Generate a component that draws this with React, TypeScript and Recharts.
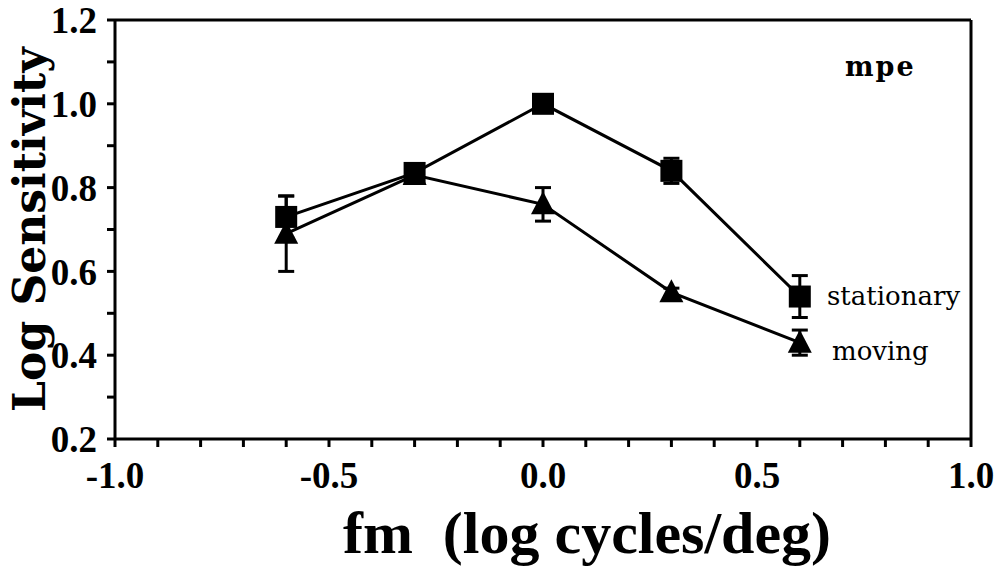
import React from "react";
import {
  ComposedChart, Line, XAxis, YAxis, ErrorBar, ReferenceLine, Label,
} from "recharts";

// spatial frequency (log cycles/deg)
const freqs = [-0.6, -0.3, 0.0, 0.3, 0.6];
const stationaryVals = [0.73, 0.835, 1.0, 0.84, 0.54];
const stationaryErr = [0.05, 0.01, 0.01, 0.03, 0.05];
const movingVals = [0.69, 0.83, 0.76, 0.55, 0.43];
const movingErr = [0.09, 0.02, 0.04, 0.01, 0.03];

const xTicks = [-1.0, -0.9, -0.8, -0.7, -0.6, -0.5, -0.4, -0.3, -0.2, -0.1, 0.0,
  0.1, 0.2, 0.3, 0.4, 0.5, 0.6, 0.7, 0.8, 0.9, 1.0];
const yTicks = [0.2, 0.3, 0.4, 0.5, 0.6, 0.7, 0.8, 0.9, 1.0, 1.1, 1.2];

const stationary = freqs.map((x, i) => ({ x, y: stationaryVals[i], err: stationaryErr[i] }));
const moving = freqs.map((x, i) => ({ x, y: movingVals[i], err: movingErr[i] }));

const SERIF = "'DejaVu Serif', serif";
const TIMES = "'Liberation Serif', serif";

const xFmt = (v: number) => (Math.abs(v * 2 - Math.round(v * 2)) < 1e-6 ? v.toFixed(1) : "");
const yFmt = (v: number) => (Math.abs(v * 5 - Math.round(v * 5)) < 1e-6 ? v.toFixed(1) : "");

function Square(props: any) {
  const { cx, cy, index } = props;
  if (cx == null || cy == null) return null;
  return <rect key={`s${index}`} x={cx - 11} y={cy - 11} width={22} height={22} fill="#000" />;
}

function Triangle(props: any) {
  const { cx, cy, index } = props;
  if (cx == null || cy == null) return null;
  return (
    <polygon
      key={`t${index}`}
      points={`${cx},${cy - 13} ${cx + 12},${cy + 10} ${cx - 12},${cy + 10}`}
      fill="#000"
    />
  );
}

const tickStyle = { fontFamily: TIMES, fontSize: 37, fontWeight: 700, fill: "#000" };

export default function App() {
  return (
    <div style={{ position: "absolute", left: 0, top: 0, width: 1000, height: 568, background: "#fff" }}>
      <ComposedChart
        width={1000}
        height={568}
        margin={{ top: 20, right: 29, bottom: 0, left: 0 }}
      >
        <XAxis
          type="number"
          dataKey="x"
          domain={[-1, 1]}
          ticks={xTicks}
          interval={0}
          tickFormatter={xFmt}
          allowDataOverflow
          stroke="#000"
          strokeWidth={3}
          tickSize={8}
          tickMargin={15}
          tick={tickStyle}
          height={129}
        >
          <Label
            value={"fm\u00a0\u00a0(log cycles/deg)"}
            position="insideBottom"
            offset={15}
            dx={44}
            style={{ fontFamily: TIMES, fontSize: 60, fontWeight: 700, fill: "#000" }}
          />
        </XAxis>
        <YAxis
          type="number"
          domain={[0.2, 1.2]}
          ticks={yTicks}
          interval={0}
          tickFormatter={yFmt}
          allowDataOverflow
          stroke="#000"
          strokeWidth={3}
          tickSize={8}
          tickMargin={10}
          tick={tickStyle}
          width={115}
        >
          <Label
            value="Log Sensitivity"
            angle={-90}
            position="insideLeft"
            offset={29}
            style={{ fontFamily: SERIF, fontSize: 44, fontWeight: 700, fill: "#000", textAnchor: "middle" }}
          />
        </YAxis>
        <ReferenceLine y={1.2} stroke="#000" strokeWidth={3} />
        <ReferenceLine x={1.0} stroke="#000" strokeWidth={3} />
        <Line
          data={stationary}
          dataKey="y"
          stroke="#000"
          strokeWidth={3}
          dot={<Square />}
          isAnimationActive={false}
        >
          <ErrorBar dataKey="err" direction="y" width={8} stroke="#000" strokeWidth={3} />
        </Line>
        <Line
          data={moving}
          dataKey="y"
          stroke="#000"
          strokeWidth={3}
          dot={<Triangle />}
          isAnimationActive={false}
        >
          <ErrorBar dataKey="err" direction="y" width={8} stroke="#000" strokeWidth={3} />
        </Line>
      </ComposedChart>
      <svg width={1000} height={568} style={{ position: "absolute", left: 0, top: 0, pointerEvents: "none" }}>
        <text x={845} y={76} fontFamily={SERIF} fontSize={27} fontWeight={700} letterSpacing={2} fill="#000">mpe</text>
        <text x={827} y={305} fontFamily={SERIF} fontSize={26} fill="#000">stationary</text>
        <text x={832} y={360} fontFamily={SERIF} fontSize={26} fill="#000">moving</text>
      </svg>
    </div>
  );
}
